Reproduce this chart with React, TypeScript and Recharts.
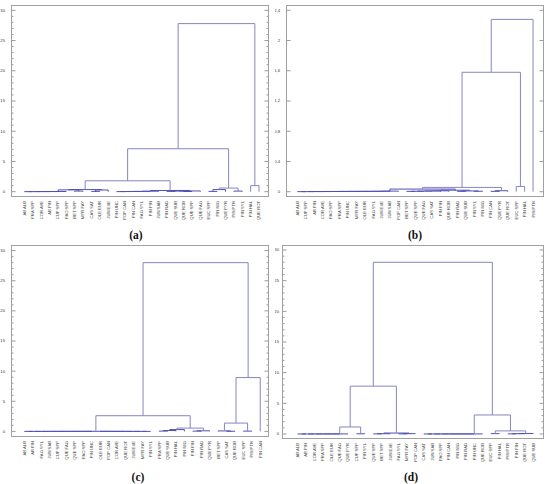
import React from 'react';
import { ComposedChart, Line, XAxis, YAxis } from 'recharts';

type Merge = [number, number, number];

// ---------- data ----------
const labelsA = ['AB ALB', 'FRA SPP', 'COR AVE', 'AB PIN', 'CUP SPP', 'PAO SPP', 'BET SPP', 'MYR FAY', 'CAS SAT', 'OLE EUR', 'JUN EXE', 'PIN UNC', 'POP CAN', 'PIN CAN', 'FAG SYL', 'PIN PIN', 'JUN SAB', 'PIN RAD', 'QUE SUB', 'QUE ROB', 'QUE SPP', 'QUE FAG', 'EUC SPP', 'PIN NIG', 'QUE PYR', 'PIN PTR', 'PIN SYL', 'PIN HAL', 'QUE ROT'];
const labelsB = ['AB ALB', 'CUP SPP', 'AB PIN', 'COR AVE', 'PAO SPP', 'FRA SPP', 'PIN UNC', 'MYR FAY', 'OLE EUR', 'FAG SYL', 'JUN EXE', 'JUN SAB', 'POP CAN', 'BET SPP', 'QUE SPP', 'QUE FAG', 'CAS SAT', 'PIN PIN', 'QUE ROB', 'PIN RAD', 'QUE SUB', 'PIN SYL', 'PIN NIG', 'PIN CAN', 'QUE PYR', 'QUE ROT', 'EUC SPP', 'PIN HAL', 'PIN PTR'];
const labelsC = ['AB ALB', 'AB PIN', 'FAG SYL', 'JUN SAB', 'CUP SPP', 'QUE FAG', 'QUE SPP', 'PAO SPP', 'PIN UNC', 'OLE EUR', 'POP CAN', 'COR AVE', 'QUE ROT', 'JUN EXE', 'MYR FAY', 'PIN SYL', 'FRA SPP', 'QUE SUB', 'PIN HAL', 'PIN NIG', 'PIN PIN', 'PIN RAD', 'QUE PYR', 'BET SPP', 'CAS SAT', 'QUE ROB', 'EUC SPP', 'PIN PTR', 'PIN CAN'];
const labelsD = ['AB ALB', 'AB PIN', 'COR AVE', 'FRA SPP', 'OLE EUR', 'QUE FAG', 'QUE PYR', 'CUP SPP', 'PIN SYL', 'QUE SPP', 'BET SPP', 'JUN EXE', 'FAG SYL', 'MYR FAY', 'POP CAN', 'CAS SAT', 'JUN SAB', 'PAO SPP', 'PIN CAN', 'PIN NIG', 'PIN RAD', 'PIN UNC', 'QUE ROB', 'EUC SPP', 'PIN HAL', 'PIN PTR', 'PIN PIN', 'QUE ROT', 'QUE SUB'];

// linkage rows: [cluster a, cluster b, height]; leaves 0..28, new clusters 29..
const mergesA: Merge[] = [
  [0, 1, 0.005], [29, 2, 0.01], [30, 3, 0.015], [31, 4, 0.02], [32, 5, 0.03],
  [6, 7, 0.1], [33, 34, 0.3], [8, 9, 0.05], [36, 10, 0.28], [35, 37, 0.35],
  [11, 12, 0.01], [39, 13, 0.02], [40, 14, 0.03], [41, 15, 0.05], [42, 16, 0.08],
  [17, 18, 0.05], [19, 20, 0.03], [44, 45, 0.1], [46, 21, 0.12], [43, 47, 0.2],
  [38, 48, 1.8], [22, 23, 0.05], [50, 24, 0.35], [25, 26, 0.1], [51, 52, 0.6],
  [49, 53, 7.1], [27, 28, 1.0], [54, 55, 27.8],
];
const mergesB: Merge[] = [
  [0, 1, 0.001], [29, 2, 0.001], [30, 3, 0.002], [31, 4, 0.002], [32, 5, 0.003],
  [33, 6, 0.003], [34, 7, 0.004], [35, 8, 0.004], [36, 9, 0.005], [37, 10, 0.005],
  [38, 11, 0.006], [39, 12, 0.008], [13, 14, 0.005], [41, 15, 0.006], [42, 16, 0.008],
  [43, 17, 0.01], [44, 18, 0.012], [19, 20, 0.005], [21, 22, 0.006], [46, 47, 0.01],
  [45, 48, 0.02], [40, 49, 0.035], [23, 24, 0.005], [51, 25, 0.013], [50, 52, 0.057],
  [26, 27, 0.07], [53, 54, 1.58], [55, 28, 2.28],
];
const mergesC: Merge[] = [
  [0, 1, 0.002], [29, 2, 0.003], [30, 3, 0.004], [31, 4, 0.005], [32, 5, 0.006],
  [33, 6, 0.007], [34, 7, 0.008], [35, 8, 0.01], [14, 15, 0.002], [13, 37, 0.003],
  [12, 38, 0.004], [11, 39, 0.005], [10, 40, 0.006], [9, 41, 0.008], [36, 42, 0.015],
  [16, 17, 0.05], [44, 18, 0.15], [45, 19, 0.3], [20, 21, 0.05], [47, 22, 0.1],
  [46, 48, 0.55], [43, 49, 2.6], [24, 25, 0.02], [23, 51, 0.08], [26, 27, 0.05],
  [52, 53, 1.38], [54, 28, 8.93], [50, 55, 28.0],
];
const mergesD: Merge[] = [
  [0, 1, 0.002], [29, 2, 0.003], [30, 3, 0.004], [31, 4, 0.005], [32, 5, 0.006],
  [33, 6, 0.01], [7, 8, 0.03], [34, 35, 1.14], [9, 10, 0.02], [37, 11, 0.04],
  [12, 13, 0.02], [39, 14, 0.05], [38, 40, 0.15], [36, 41, 7.8], [15, 16, 0.002],
  [43, 17, 0.003], [44, 18, 0.004], [45, 19, 0.005], [46, 20, 0.006], [47, 21, 0.008],
  [48, 22, 0.01], [23, 24, 0.05], [25, 26, 0.02], [51, 27, 0.04], [52, 28, 0.08],
  [50, 53, 0.5], [49, 54, 3.1], [42, 55, 28.0],
];

const ticks30 = Array.from({ length: 31 }, (_, i) => i);
const major30 = [0, 5, 10, 15, 20, 25, 30];
const major30Labels = ['0', '5', '10', '15', '20', '25', '30'];
const ticksB = [0, 0.4, 0.8, 1.2, 1.6, 2, 2.4];
const ticksBLabels = ['0', '0,4', '0,8', '1,2', '1,6', '2', '2,4'];

// ---------- style / layout ----------
const AXIS = '#9a9a9a';
const FRAME = '#a0a0a0';
const TEXT = '#3a3a3a';
const FONT = '"Liberation Sans", Arial, sans-serif';
const LINE_MAIN = '#8585c2';
const LINE_LOW = '#5050b4';

interface PanelCfg {
  left: number; top: number; width: number; height: number;
  plotLeft: number; plotRight: number; plotTop: number; plotBottom: number;
  xDomain: [number, number]; yDomain: [number, number];
  yTicks: number[]; yMajor: number[]; yLabels: string[]; labelGap: number; lowLimit: number;
  labels: string[]; merges: Merge[];
  caption: string; capX: number; capY: number;
}

const panels: PanelCfg[] = [
  { left: 0, top: 0, width: 275, height: 228, plotLeft: 11, plotRight: 269, plotTop: 5, plotBottom: 197,
    xDomain: [-1.59, 29.19], yDomain: [-0.88, 30.88], yTicks: ticks30, yMajor: major30, yLabels: major30Labels,
    labelGap: 6, lowLimit: 0.5, labels: labelsA, merges: mergesA, caption: '(a)', capX: 136, capY: 236 },
  { left: 275, top: 0, width: 275, height: 228, plotLeft: 286, plotRight: 544, plotTop: 5, plotBottom: 197,
    xDomain: [-1.34, 29.3], yDomain: [-0.07, 2.47], yTicks: ticksB, yMajor: ticksB, yLabels: ticksBLabels,
    labelGap: 6, lowLimit: 0.04, labels: labelsB, merges: mergesB, caption: '(b)', capX: 415, capY: 236 },
  { left: 0, top: 240, width: 275, height: 228, plotLeft: 11, plotRight: 269, plotTop: 245, plotBottom: 437,
    xDomain: [-1.58, 29.04], yDomain: [-0.93, 30.93], yTicks: ticks30, yMajor: major30, yLabels: major30Labels,
    labelGap: 6, lowLimit: 0.5, labels: labelsC, merges: mergesC, caption: '(c)', capX: 138, capY: 478 },
  { left: 275, top: 240, width: 275, height: 228, plotLeft: 282, plotRight: 544, plotTop: 245, plotBottom: 439,
    xDomain: [-1.85, 29.3], yDomain: [-0.82, 30.82], yTicks: ticks30, yMajor: major30, yLabels: major30Labels,
    labelGap: 3, lowLimit: 0.5, labels: labelsD, merges: mergesD, caption: '(d)', capX: 411, capY: 477.5 },
];

function buildSegments(merges: Merge[], n: number) {
  const xs: number[] = [];
  const hs: number[] = [];
  for (let i = 0; i < n; i++) { xs.push(i); hs.push(0); }
  const segs: { id: string; h: number; pts: { x: number; y: number }[] }[] = [];
  merges.forEach(([a, b, h], k) => {
    const xa = xs[a];
    const xb = xs[b];
    segs.push({ id: 'm' + k, h, pts: [{ x: xa, y: hs[a] }, { x: xa, y: h }, { x: xb, y: h }, { x: xb, y: hs[b] }] });
    xs.push((xa + xb) / 2);
    hs.push(h);
  });
  return segs;
}

function Panel({ cfg }: { cfg: PanelCfg }) {
  const segs = buildSegments(cfg.merges, cfg.labels.length);
  const leafTicks = cfg.labels.map((_, i) => i);
  const majorIndex = (v: number) => cfg.yMajor.findIndex((m) => Math.abs(m - v) < 1e-9);

  const leftTick = (p: any) => {
    const v = p.payload.value;
    const mi = majorIndex(v);
    const ax = p.x + cfg.labelGap;
    return (
      <g key={'l' + v}>
        <line x1={ax} x2={ax + (mi >= 0 ? 4.5 : 2.5)} y1={p.y} y2={p.y} stroke={AXIS} strokeWidth={1} />
        {mi >= 0 && (
          <text x={p.x} y={p.y} dy="0.35em" textAnchor="end" fontSize={4.2} fill={TEXT} fontFamily={FONT}>
            {cfg.yLabels[mi]}
          </text>
        )}
      </g>
    );
  };
  const rightTick = (p: any) => {
    const v = p.payload.value;
    const mi = majorIndex(v);
    return (
      <line key={'r' + v} x1={p.x} x2={p.x - (mi >= 0 ? 4.5 : 2.5)} y1={p.y} y2={p.y} stroke={AXIS} strokeWidth={1} />
    );
  };
  const bottomTick = (p: any) => {
    const i = p.payload.value;
    return (
      <text key={'b' + i} x={p.x} y={p.y} dy="0.35em" textAnchor="end" transform={`rotate(-90, ${p.x}, ${p.y})`}
        fontSize={4.2} fill={TEXT} fontFamily={FONT}>
        {cfg.labels[i]}
      </text>
    );
  };

  return (
    <div style={{ position: 'absolute', left: cfg.left, top: cfg.top, width: cfg.width, height: cfg.height }}>
      <ComposedChart width={cfg.width} height={cfg.height}
        margin={{ top: cfg.plotTop - cfg.top, right: 0, bottom: 0, left: 0 }}>
        <XAxis xAxisId="b" type="number" dataKey="x" domain={cfg.xDomain} allowDataOverflow ticks={leafTicks}
          interval={0} height={cfg.top + cfg.height - cfg.plotBottom} tickSize={0} tickMargin={4}
          tickLine={false} axisLine={false} tick={bottomTick} />
        <YAxis yAxisId="l" type="number" domain={cfg.yDomain} allowDataOverflow ticks={cfg.yTicks} interval={0}
          width={cfg.plotLeft - cfg.left} tickSize={0} tickMargin={cfg.labelGap} tickLine={false}
          axisLine={false} tick={leftTick} />
        <YAxis yAxisId="r" orientation="right" type="number" domain={cfg.yDomain} allowDataOverflow ticks={cfg.yTicks}
          interval={0} width={cfg.left + cfg.width - cfg.plotRight} tickSize={0} tickMargin={0} tickLine={false}
          axisLine={false} tick={rightTick} />
        {segs.map((s) => (
          <Line key={s.id} xAxisId="b" yAxisId="l" data={s.pts} dataKey="y" type="linear"
            stroke={s.h < cfg.lowLimit ? LINE_LOW : LINE_MAIN} strokeWidth={1} dot={false} activeDot={false}
            isAnimationActive={false} legendType="none" />
        ))}
      </ComposedChart>
      <div style={{
        position: 'absolute', left: cfg.plotLeft - cfg.left, top: cfg.plotTop - cfg.top,
        width: cfg.plotRight - cfg.plotLeft, height: cfg.plotBottom - cfg.plotTop,
        border: '1px solid ' + FRAME, boxSizing: 'border-box', pointerEvents: 'none',
      }} />
    </div>
  );
}

export default function App() {
  return (
    <div style={{ position: 'absolute', left: 0, top: 0, width: 550, height: 484, background: '#fff' }}>
      {panels.map((cfg) => (
        <Panel key={cfg.caption} cfg={cfg} />
      ))}
      {panels.map((cfg) => (
        <div key={'c' + cfg.caption} style={{
          position: 'absolute', left: cfg.capX, top: cfg.capY, transform: 'translate(-50%, -50%)',
          fontFamily: '"Liberation Serif", "Times New Roman", serif', fontWeight: 'bold', fontSize: 11.5,
          color: '#111', lineHeight: 1, whiteSpace: 'nowrap',
        }}>
          {cfg.caption}
        </div>
      ))}
    </div>
  );
}
